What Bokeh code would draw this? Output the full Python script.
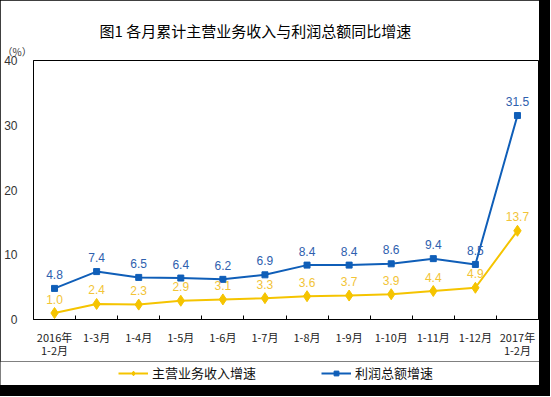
from bokeh.plotting import figure
from bokeh.models import (ColumnDataSource, FixedTicker, LabelSet, Legend, LegendItem,
                          Title, Range1d, Spacer)
from bokeh.layouts import column, row
from bokeh.core.properties import value
from bokeh.embed import file_html
from bokeh.resources import INLINE

categories = ["2016年\n1-2月", "1-3月", "1-4月", "1-5月", "1-6月", "1-7月", "1-8月",
              "1-9月", "1-10月", "1-11月", "1-12月", "2017年\n1-2月"]
revenue = [1.0, 2.4, 2.3, 2.9, 3.1, 3.3, 3.6, 3.7, 3.9, 4.4, 4.9, 13.7]
profit = [4.8, 7.4, 6.5, 6.4, 6.2, 6.9, 8.4, 8.4, 8.6, 9.4, 8.5, 31.5]
y_ticks = [0, 10, 20, 30, 40]
series_names = ["主营业务收入增速", "利润总额增速"]
title_text = "图1  各月累计主营业务收入与利润总额同比增速"
unit_text = "（%）"

YEL = "#F5C400"
YEL_T = "#F2C437"
BLUE = "#0F5EB8"
BLUE_T = "#2E60AE"
CJK = "Noto Sans CJK SC"
NUM = "Liberation Sans"

idx = list(range(len(categories)))
src = ColumnDataSource(dict(
    x=idx, rev=revenue, pro=profit,
    rev_t=[f"{v:.1f}" for v in revenue],
    pro_t=[f"{v:.1f}" for v in profit],
))

p = figure(width=539, height=361, output_backend="svg", toolbar_location=None, title=None,
           x_range=Range1d(-0.5, len(categories) - 0.5),
           y_range=Range1d(y_ticks[0], y_ticks[-1]),
           min_border_left=33, min_border_right=1, min_border_top=60, min_border_bottom=41)
p.add_layout(Title(text=unit_text, align="left", offset=-31, standoff=3,
                   text_font=CJK, text_font_size="10px", text_font_style="normal",
                   text_color="#333333"), "above")
p.add_layout(Title(text=title_text, align="left", offset=66, standoff=0,
                   text_font=CJK, text_font_size="15px", text_font_style="normal",
                   text_color="#000000"), "above")

p.outline_line_color = "black"
p.outline_line_width = 1
p.xgrid.visible = False
p.ygrid.visible = False

xa = p.xaxis[0]
xa.ticker = FixedTicker(ticks=idx, minor_ticks=[i + 0.5 for i in idx[:-1]])
xa.major_label_overrides = {i: c for i, c in enumerate(categories)}
xa.major_tick_line_color = None
xa.minor_tick_in = 4
xa.minor_tick_out = 0
xa.minor_tick_line_color = "black"
xa.axis_line_color = "black"
xa.major_label_standoff = 3
xa.major_label_text_font = CJK
xa.major_label_text_font_size = "11px"
xa.major_label_text_line_height = 0.85
xa.major_label_text_color = "#222222"

ya = p.yaxis[0]
ya.ticker = FixedTicker(ticks=y_ticks)
ya.major_tick_line_color = None
ya.minor_tick_line_color = None
ya.axis_line_color = "black"
ya.major_label_standoff = 10
ya.major_label_text_font = NUM
ya.major_label_text_font_size = "12px"
ya.major_label_text_color = "#333333"

p.line("x", "rev", source=src, line_color=YEL, line_width=2)
p.scatter("x", "rev", source=src, marker="diamond", size=11, fill_color=YEL, line_color=YEL)
p.line("x", "pro", source=src, line_color=BLUE, line_width=2)
p.scatter("x", "pro", source=src, marker="square", size=6, fill_color=BLUE, line_color=BLUE)

p.add_layout(LabelSet(x="x", y="rev", text="rev_t", source=src, text_align="center",
                      text_baseline="middle", y_offset=14, text_font=value(NUM),
                      text_font_size="12px", text_color=YEL_T))
p.add_layout(LabelSet(x="x", y="pro", text="pro_t", source=src, text_align="center",
                      text_baseline="middle", y_offset=14, text_font=value(NUM),
                      text_font_size="12px", text_color=BLUE_T))

# legend strip below the chart (its renderers use the same data, kept out of view)
pl = figure(width=539, height=24, output_backend="svg", toolbar_location=None,
            x_range=Range1d(-0.5, len(categories) - 0.5), y_range=Range1d(-20, -10),
            x_axis_type=None, y_axis_type=None, min_border=0)
pl.outline_line_color = None
pl.xgrid.visible = False
pl.ygrid.visible = False
ll1 = pl.line("x", "rev", source=src, line_color=YEL, line_width=2)
ls1 = pl.scatter("x", "rev", source=src, marker="diamond", size=10, fill_color=YEL, line_color=YEL)
ll2 = pl.line("x", "pro", source=src, line_color=BLUE, line_width=2)
ls2 = pl.scatter("x", "pro", source=src, marker="square", size=6, fill_color=BLUE, line_color=BLUE)
legend = Legend(items=[LegendItem(label=series_names[0], renderers=[ll1, ls1]),
                       LegendItem(label=series_names[1], renderers=[ll2, ls2])],
                orientation="horizontal", location=(118, 3),
                label_text_font=CJK, label_text_font_size="13px", label_text_color="#111111",
                glyph_width=30, glyph_height=12, spacing=65, label_standoff=4,
                padding=0, margin=0, border_line_color=None, background_fill_alpha=0)
pl.add_layout(legend, "center")

page = column(row(p, Spacer(width=11, height=361)),
              row(pl, Spacer(width=11, height=24)),
              Spacer(width=550, height=11),
              styles={"background-color": "black"})

open("out.html", "w").write(file_html(page, INLINE))
